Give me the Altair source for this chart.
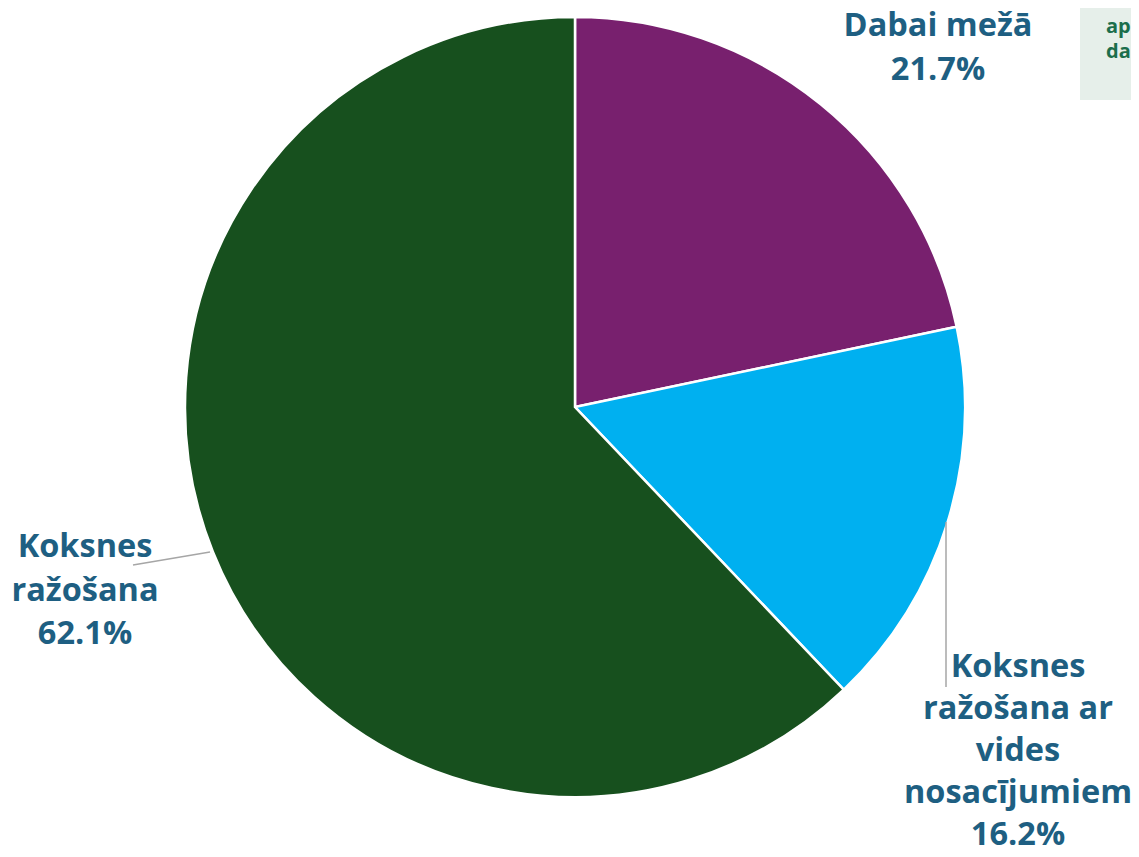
import altair as alt
import pandas as pd

categories = ["Dabai mežā", "Koksnes ražošana ar vides nosacījumiem", "Koksnes ražošana"]
shares = [21.7, 16.2, 62.1]
colors = ["#78206E", "#00B0F0", "#17501E"]
label_names = ["Dabai mežā", "Koksnes\nražošana ar\nvides\nnosacījumiem", "Koksnes\nražošana"]
box_lines = ["apsaimniekošana", "dabas"]

df = pd.DataFrame({
    "category": categories,
    "share": shares,
    "order": list(range(len(categories))),
    "label": [f"{n}\n{s:.1f}%" for n, s in zip(label_names, shares)],
})

CX, CY, R = 567, 399, 390

shadow = alt.Chart(pd.DataFrame({"v": [1]})).mark_arc(
    x=CX - 2, y=CY + 3, outerRadius=R + 3, color="#9a9a9a", opacity=0.25
).encode(theta=alt.Theta("v:Q"))

pie = alt.Chart(df).mark_arc(
    x=CX, y=CY, outerRadius=R, stroke="white", strokeWidth=2.5
).encode(
    theta=alt.Theta("share:Q", stack=True),
    color=alt.Color("category:N", scale=alt.Scale(domain=categories, range=colors), legend=None),
    order=alt.Order("order:Q"),
)

text_style = dict(fontSize=32.5, fontWeight="bold", font="Open Sans", color="#1E5F82",
                  align="center", baseline="middle", lineBreak="\n")

positions = {categories[0]: (930, 18, 43.5), categories[1]: (1010, 659, 42), categories[2]: (77, 539, 43.5)}
labels = []
for cat, (lx, ly, lh) in positions.items():
    labels.append(
        alt.Chart(df).transform_filter(alt.datum.category == cat)
        .mark_text(lineHeight=lh, **text_style)
        .encode(x=alt.value(lx), y=alt.value(ly), text="label:N")
    )

leaders = alt.Chart(pd.DataFrame({"v": [1]})).mark_rule(
    color="#a6a6a6", strokeWidth=1.5
).encode(x=alt.value(125), y=alt.value(557), x2=alt.value(202), y2=alt.value(544))
leader2 = alt.Chart(pd.DataFrame({"v": [1]})).mark_rule(
    color="#a6a6a6", strokeWidth=1.5
).encode(x=alt.value(938), y=alt.value(514), x2=alt.value(938), y2=alt.value(679))

box = alt.Chart(pd.DataFrame({"v": [1]})).mark_rect(color="#E6EFEA").encode(
    x=alt.value(1072), x2=alt.value(1140), y=alt.value(-10), y2=alt.value(92)
)
box_text = alt.Chart(pd.DataFrame({"t": ["\n".join(box_lines)]})).mark_text(
    fontSize=20, fontWeight="bold", font="Open Sans", color="#1B6E4C", align="left",
    baseline="middle", lineHeight=25, lineBreak="\n"
).encode(x=alt.value(1098), y=alt.value(19), text="t:N")

chart = alt.layer(shadow, pie, leaders, leader2, *labels, box, box_text).properties(
    width=1123, height=841, padding=0, autosize=alt.AutoSizeParams(type="none"),
    background="white",
).configure_view(stroke=None)

chart.save("out.html", embed_options={"renderer": "svg", "actions": False})
